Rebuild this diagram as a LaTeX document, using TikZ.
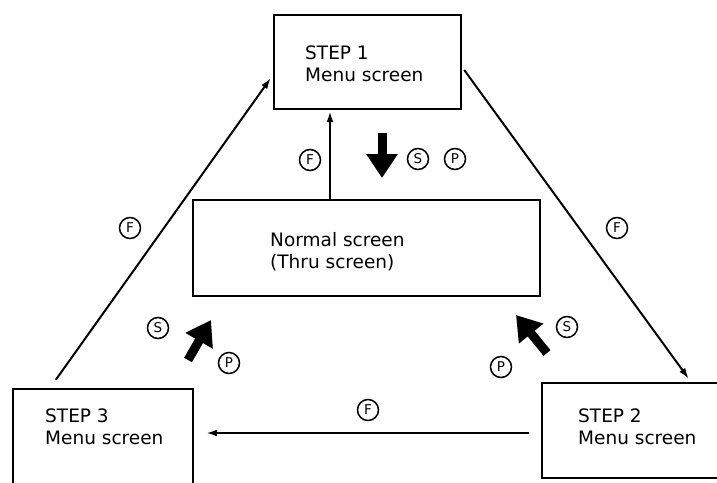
\documentclass[tikz,border=0pt]{standalone}
\usepackage{fontspec}
\setmainfont{DejaVu Sans}
\usetikzlibrary{arrows.meta}
\begin{document}
\begin{tikzpicture}[x=1pt,y=-1pt,
  box/.style={draw,line width=2.4pt,inner sep=0pt},
  lbl/.style={anchor=base west,align=left,inner sep=0pt,font=\fontsize{18.5}{21.5}\selectfont},
  thinarrow/.style={line width=2pt,-{Latex[length=11pt,width=7pt]}},
  fat/.style={line width=9pt,-{Triangle[length=24pt,width=30pt]}},
  circ/.style={draw,circle,line width=1.5pt,minimum size=21pt,inner sep=0pt,font=\fontsize{13.5}{13.5}\selectfont}]
\useasboundingbox[fill=white] (0,0) rectangle (717,482);
% boxes
\node[box,minimum width=187pt,minimum height=94pt] (s1) at (367.5,62) {};
\node[box,minimum width=347pt,minimum height=96pt] (n) at (366.5,248) {};
\node[box,minimum width=180pt,minimum height=106pt] (s3) at (103,442) {};
\node[box,minimum width=186pt,minimum height=95pt] (s2) at (635,430.5) {};
% labels
\node[lbl] (t1) at (305,81) {STEP 1\\Menu screen};
\node[lbl] (tn) at (270,268) {Normal screen\\(Thru screen)};
\node[lbl] (t3) at (45,444) {STEP 3\\Menu screen};
\node[lbl] (t2) at (578,444) {STEP 2\\Menu screen};
% thin arrows
\draw[thinarrow] ([xshift=44pt,yshift=8pt]s3.north west) -- ([xshift=-2pt,yshift=-16pt]s1.west);
\draw[thinarrow] ([xshift=2pt,yshift=-8pt]s1.east) -- ([xshift=148pt,yshift=3pt]s2.north west);
\draw[thinarrow] ([xshift=-12pt,yshift=-2.5pt]s2.west) -- ([xshift=12pt,yshift=9pt]s3.east);
\draw[thinarrow] ([xshift=-36.5pt]n.north) -- ([xshift=-37.5pt,yshift=-1pt]s1.south);
% fat arrows
\coordinate (d0) at (382,133);
\coordinate (d1) at (382,178);
\coordinate (l0) at (188,360);
\coordinate (l1) at (211,320);
\coordinate (r0) at (547,353);
\coordinate (r1) at (516,315);
\draw[fat] (d0) -- (d1);
\draw[fat] (l0) -- (l1);
\draw[fat] (r0) -- (r1);
% circled letters
\node[circ] (c1) at (310,160) {F};
\node[circ] (c2) at (418,159) {S};
\node[circ] (c3) at (455,159) {P};
\node[circ] (c4) at (130,228) {F};
\node[circ] (c5) at (617,228) {F};
\node[circ] (c6) at (158,328) {S};
\node[circ] (c7) at (229,363) {P};
\node[circ] (c8) at (567,327) {S};
\node[circ] (c9) at (501,367) {P};
\node[circ] (c10) at (368,410) {F};
\end{tikzpicture}
\end{document}
